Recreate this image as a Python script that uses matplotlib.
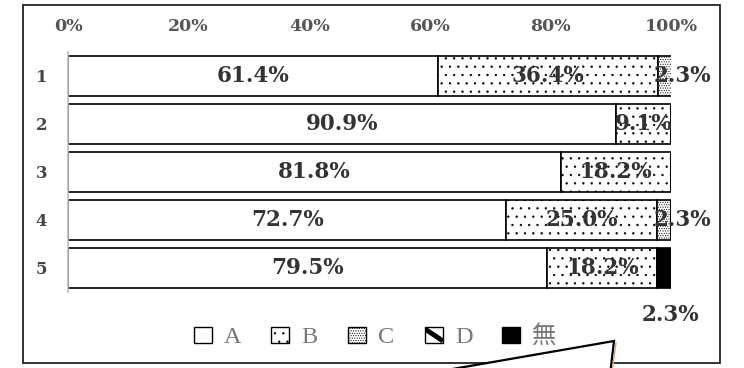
import numpy as np
import matplotlib.pyplot as plt
from matplotlib.patches import Rectangle, Polygon
from matplotlib.lines import Line2D

rows = ["1", "2", "3", "4", "5"]
series = ["A", "B", "C", "D", "無"]
vals_a = [61.4, 90.9, 81.8, 72.7, 79.5]
vals_b = [36.4, 9.1, 18.2, 25.0, 18.2]
vals_c = [2.3, 0.0, 0.0, 2.3, 0.0]
vals_d = [0.0, 0.0, 0.0, 0.0, 0.0]
vals_none = [0.0, 0.0, 0.0, 0.0, 2.3]
xticks = [0, 20, 40, 60, 80, 100]

faces = ["white", "white", "white", "white", "black"]
hatches = [None, "..", ".......", None, None]

plt.rcParams["hatch.linewidth"] = 0.45

W, H = 744, 368
fx = lambda px: px / W
fy = lambda py: 1 - py / H

fig = plt.figure(figsize=(W / 100, H / 100), dpi=100)
ax = fig.add_axes([fx(68), fy(292), (671 - 68) / W, (292 - 52) / H])

serif = ["DejaVu Serif"]
data = np.array([vals_a, vals_b, vals_c, vals_d, vals_none])
y = np.arange(len(rows))
left = np.zeros(len(rows))
for k, name in enumerate(series):
    ax.barh(y, data[k], left=left, height=0.83, color=faces[k], hatch=hatches[k],
            edgecolor="black", linewidth=1.2, label=name)
    for i in range(len(rows)):
        v = data[k][i]
        if v <= 0:
            continue
        cx = left[i] + v / 2
        cy = y[i]
        if k == 4:
            cx, cy = cx + 1, cy + 0.98
        elif v < 5:
            cx = cx + 3
        ax.text(cx, cy, f"{v:.1f}%", ha="center", va="center", fontsize=15.5,
                fontweight="bold", color="#333333", family=serif)
    left += data[k]

ax.set_xlim(0, 100)
ax.set_ylim(4.5, -0.5)
ax.xaxis.tick_top()
ax.set_xticks(xticks)
ax.set_xticklabels([f"{t}%" for t in xticks], fontsize=12.5, fontweight="bold",
                   color="#555555", family=serif)
ax.set_yticks(y)
ax.set_yticklabels(rows, fontsize=12, fontweight="bold", color="#444444", family=serif)
ax.tick_params(length=0)
ax.tick_params(axis="x", pad=12)
ax.tick_params(axis="y", pad=15)
for s in ["top", "right", "bottom"]:
    ax.spines[s].set_visible(False)
ax.spines["left"].set_color("#bbbbbb")
ax.spines["left"].set_linewidth(1.2)

# legend, laid out by hand
for k, name in enumerate(series):
    x0 = 194 + 77 * k
    r = Rectangle((fx(x0), fy(343)), 18 / W, 16 / H, transform=fig.transFigure,
                  facecolor=faces[k], edgecolor="black", hatch=hatches[k], linewidth=1.0)
    fig.patches.append(r)
    if name == "D":
        ln = Line2D([fx(x0), fx(x0 + 18)], [fy(329), fy(341)], transform=fig.transFigure,
                    color="black", linewidth=3.5, solid_capstyle="butt")
        ln.set_clip_path(r)
        fig.lines.append(ln)
    fig.text(fx(x0 + 30), fy(343), name, ha="left", va="baseline", fontsize=17.5,
             color="#777777", family=["Liberation Serif", "Noto Sans CJK JP"])

# outer frame
fig.patches.append(Rectangle((fx(23), fy(363)), (720 - 23) / W, (363 - 5) / H,
                             transform=fig.transFigure, fill=False, edgecolor="#222222",
                             linewidth=1.3))
# callout shape at the bottom
pts = [(418, 375), (614, 341), (610, 375)]
fig.patches.append(Polygon([(fx(px), fy(py)) for px, py in pts], closed=True,
                           transform=fig.transFigure, facecolor="white", edgecolor="black",
                           linewidth=1.6))
fig.lines.append(Line2D([fx(616), fx(612.5)], [fy(343), fy(368)],
                        transform=fig.transFigure, color="#d0a888", linewidth=1.0))

fig.savefig("out.png", dpi=100)
